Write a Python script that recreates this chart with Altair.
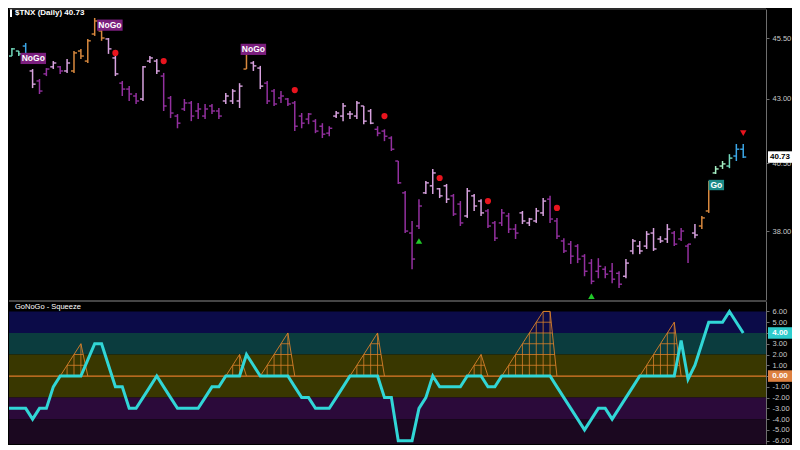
import altair as alt
import pandas as pd

# ---------------- data ----------------
N_BARS = 108
bar_index = list(range(N_BARS))

highs = [45.18, 45.10, 44.97, 45.31, 44.22, 43.81, 44.26, 44.55, 44.35, 44.64,
         44.97, 45.06, 45.48, 46.38, 45.91, 45.52, 44.76, 43.73, 43.52, 43.24,
         44.35, 44.76, 44.64, 44.06, 43.12, 42.40, 43.00, 42.92, 42.84, 42.80,
         42.80, 42.64, 43.24, 43.40, 43.64, 45.06, 44.55, 44.35, 43.73, 43.40,
         43.32, 43.04, 42.92, 42.44, 42.44, 42.20, 42.04, 41.92, 42.52, 42.84,
         42.52, 42.92, 42.72, 42.60, 41.92, 41.80, 41.53, 40.58, 39.46, 38.37,
         39.16, 39.83, 40.28, 39.57, 39.72, 39.35, 39.09, 39.57, 39.35, 39.16,
         38.80, 38.37, 38.80, 38.66, 38.26, 38.73, 38.48, 38.84, 39.20, 39.28,
         38.48, 37.76, 37.66, 37.55, 37.20, 37.03, 37.06, 36.78, 36.89, 36.61,
         37.03, 37.73, 37.66, 38.01, 38.12, 37.83, 38.26, 38.01, 38.12, 37.55,
         38.26, 38.55, 39.83, 40.39, 40.58, 40.84, 41.23, 41.23]
lows = [44.47, 44.76, 44.76, 44.43, 43.44, 43.20, 43.93, 44.22, 44.02, 44.06,
        44.06, 44.64, 44.47, 45.61, 45.40, 44.85, 43.93, 43.12, 42.92, 42.80,
        42.92, 44.47, 44.02, 42.52, 42.24, 41.84, 42.52, 42.12, 42.20, 42.20,
        42.40, 42.20, 42.80, 42.80, 42.64, 44.22, 44.14, 43.40, 42.80, 42.72,
        42.84, 42.72, 41.73, 41.84, 42.00, 41.65, 41.46, 41.53, 42.24, 42.12,
        42.20, 42.20, 42.00, 42.00, 41.53, 41.34, 40.96, 39.72, 37.94, 36.68,
        38.08, 39.35, 39.35, 39.20, 39.02, 38.55, 38.19, 38.48, 38.73, 38.55,
        38.12, 37.66, 38.19, 37.94, 37.73, 38.26, 38.19, 38.30, 38.55, 38.30,
        37.73, 37.24, 36.86, 36.89, 36.44, 36.17, 36.37, 36.37, 36.20, 36.04,
        36.37, 37.20, 37.20, 37.38, 37.31, 37.59, 37.59, 37.48, 37.66, 36.89,
        37.76, 38.08, 38.66, 40.09, 40.28, 40.31, 40.58, 40.69]
opens = [44.55, 44.76, 44.97, 45.18, 44.14, 43.73, 44.02, 44.31, 44.31, 44.14,
         44.14, 44.97, 44.55, 45.69, 45.82, 45.48, 44.68, 43.64, 43.40, 43.12,
         43.00, 44.55, 44.55, 43.93, 43.04, 42.32, 42.60, 42.84, 42.52, 42.32,
         42.72, 42.52, 42.92, 42.92, 42.92, 44.22, 44.47, 44.26, 43.64, 43.32,
         43.04, 43.00, 42.84, 42.32, 42.20, 42.12, 41.92, 41.65, 42.32, 42.32,
         42.40, 42.32, 42.72, 42.52, 41.80, 41.73, 41.46, 40.58, 39.39, 37.94,
         38.19, 39.39, 39.65, 39.54, 39.65, 39.28, 38.98, 38.55, 39.28, 39.09,
         38.73, 38.30, 38.30, 38.55, 38.08, 38.66, 38.30, 38.37, 38.66, 39.16,
         38.37, 37.66, 37.55, 37.48, 37.13, 36.89, 36.61, 36.68, 36.61, 36.54,
         36.44, 37.31, 37.48, 37.48, 37.94, 37.73, 37.73, 37.94, 37.73, 37.48,
         37.94, 38.19, 38.73, 40.13, 40.39, 40.39, 40.77, 41.03]
closes = [45.10, 45.06, 44.85, 44.55, 43.60, 43.32, 44.22, 44.47, 44.14, 44.47,
          44.89, 44.76, 45.40, 46.25, 45.52, 45.06, 44.02, 43.40, 43.20, 42.92,
          44.31, 44.68, 44.14, 42.72, 42.44, 42.04, 42.84, 42.32, 42.60, 42.60,
          42.52, 42.32, 43.12, 43.32, 43.52, 44.89, 44.35, 43.52, 42.92, 42.80,
          43.12, 42.80, 41.92, 42.04, 42.40, 41.73, 41.61, 41.84, 42.44, 42.72,
          42.40, 42.84, 42.12, 42.04, 41.65, 41.53, 41.03, 39.76, 38.01, 37.03,
          38.91, 39.76, 40.13, 39.28, 39.16, 38.62, 38.30, 39.46, 38.91, 38.66,
          38.19, 37.76, 38.66, 38.08, 37.94, 38.37, 38.44, 38.73, 39.09, 38.44,
          37.83, 37.31, 37.13, 37.03, 36.61, 36.27, 36.78, 36.51, 36.34, 36.17,
          36.89, 37.66, 37.31, 37.90, 37.38, 37.66, 38.08, 37.55, 38.01, 37.55,
          37.87, 38.48, 39.76, 40.28, 40.47, 40.69, 41.03, 40.73]
# GoNoGo bar state: T go-weak, B go, L go-light, A amber, w nogo-weak, n nogo
state_codes = ("TTTB" "wnnwnw" "AAAAA" "ww" "nnn" "www" "nnnnnnnnn" "www" "A" "ww"
               "nnnnnnnnnn" "wwwwww" "nnnnnnn" "wwww" "nn" "www" "nnnnn" "wwww"
               "nnnnnnnnnnn" "wwwwwww" "nnn" "w" "AA" "LL" "T" "BB")

osc = [-3, -3, -3, -3, -4, -3, -3, -1, 0, 0,
       0, 0, 1.5, 3, 3, 1, -1, -1, -3, -3,
       -2, -1, 0, -1, -2, -3, -3, -3, -3, -2,
       -1, -1, 0, 0, 0, 2, 1, 0, 0, 0,
       0, 0, -1, -2, -2, -3, -3, -3, -2, -1,
       0, 0, 0, 0, 0, -2, -2, -6, -6, -6,
       -3, -2, 0, -1, -1, -1, -1, 0, 0, 0,
       -1, -1, 0, 0, 0, 0, 0, 0, 0, 0,
       -1, -2, -3, -4, -5, -4, -3, -3, -4, -3,
       -2, -1, 0, 0, 0, 0, 0, 0, 3.3, -0.3,
       1, 3, 5, 5, 5, 6, 5, 4]

sq_start = [8, 32, 37, 50, 67, 72, 92]
sq_heights = [[0, 1, 2, 3], [0, 1, 2], [0, 1, 2, 3, 4], [0, 1, 2, 3, 4],
              [0, 1, 2], [0, 1, 2, 3, 4, 5, 6, 6], [0, 1, 2, 3, 4, 5]]

dot_bars = [16, 23, 42, 55, 63, 70, 80]
dot_prices = [44.89, 44.55, 43.36, 42.32, 39.94, 39.09, 38.84]
up_bars = [60, 85]
up_prices = [37.66, 35.77]
down_bars = [107]
down_prices = [41.65]
nogo_bars = [4.1, 15.2, 36.0]
nogo_prices = [44.66, 46.07, 45.04]
go_bars = [103.1]
go_prices = [39.68]

price_ticks = [38.0, 40.5, 43.0, 45.5]
osc_ticks = [-6, -5, -4, -3, -2, -1, 0, 1, 2, 3, 4, 5, 6]
band_lo = [4, 2, -2, -4, -6.31]
band_hi = [6, 4, 2, -2, -4]
band_colors = ["#0b0b48", "#0b3c3e", "#393700", "#2b0a3a", "#1b0820"]

title_text = "$TNX (Daily) 40.73"
osc_title = "GoNoGo - Squeeze"

# ---------------- styles ----------------
STATE_COLORS = {"T": "#72d8bb", "B": "#3ba6e6", "L": "#a6f0c4", "A": "#d9893e",
                "w": "#d8a2df", "n": "#93309f"}
FONT = "Liberation Sans"
W, H_TOP, H_BOT = 757, 291, 143
xs = alt.Scale(domain=[0.58, 110.3], nice=False, zero=False)
ys_top = alt.Scale(type="log", domain=[35.64, 46.77], nice=False)
ys_bot = alt.Scale(domain=[-6.31, 6.97], nice=False, zero=False)

axis_common = dict(orient="right", title=None, grid=False, labelColor="#c8c8c8",
                   labelFontSize=7.5, labelFont=FONT, domainColor="#6e6e6e",
                   tickColor="#6e6e6e", tickSize=3, labelPadding=3, labelFlush=False)
axis_top = alt.Axis(values=price_ticks, format=".2f", **axis_common)
axis_bot = alt.Axis(values=osc_ticks,
                    labelExpr="(datum.value < 0 ? '-' : '') + format(abs(datum.value), '.2f')",
                    **axis_common)
X = alt.X("i:Q", scale=xs, axis=None)

def YT(f):
    return alt.Y(f, scale=ys_top, axis=axis_top)

def YB(f):
    return alt.Y(f, scale=ys_bot, axis=axis_bot)

RECT_WIDE = "M-1,-0.44L1,-0.44L1,0.44L-1,0.44Z"
RECT_GO = "M-1,-0.67L1,-0.67L1,0.67L-1,0.67Z"
RECT_TAG = "M-1,-0.48L1,-0.48L1,0.48L-1,0.48Z"

# ---------------- top panel ----------------
bars = pd.DataFrame(dict(i=bar_index, high=highs, low=lows, open=opens,
                         close=closes, state=list(state_codes)))
bars["color"] = bars["state"].map(STATE_COLORS)
C = alt.Color("color:N", scale=None)
base = alt.Chart(bars)
hl = base.mark_rule(strokeWidth=1.5, clip=True).encode(
    x=X, y=YT("low:Q"), y2="high:Q", color=C)
op = base.mark_rule(strokeWidth=1.4, xOffset=-3, x2Offset=0, clip=True).encode(
    x=X, x2="i:Q", y=YT("open:Q"), color=C)
cl = base.mark_rule(strokeWidth=1.4, xOffset=0, x2Offset=3, clip=True).encode(
    x=X, x2="i:Q", y=YT("close:Q"), color=C)

dots = alt.Chart(pd.DataFrame(dict(i=dot_bars, p=dot_prices))).mark_circle(
    size=38, color="#e8141e", opacity=1).encode(x=X, y=YT("p:Q"))
ups = alt.Chart(pd.DataFrame(dict(i=up_bars, p=up_prices))).mark_point(
    shape="triangle-up", filled=True, size=42, color="#20c828", opacity=1).encode(x=X, y=YT("p:Q"))
downs = alt.Chart(pd.DataFrame(dict(i=down_bars, p=down_prices))).mark_point(
    shape="triangle-down", filled=True, size=42, color="#e8141e", opacity=1).encode(x=X, y=YT("p:Q"))

nogo_df = pd.DataFrame(dict(i=nogo_bars, p=nogo_prices, t=["NoGo"] * len(nogo_bars)))
nogo_box = alt.Chart(nogo_df).mark_point(shape=RECT_WIDE, filled=True, size=650,
                                         color="#7b1f7e", opacity=1).encode(x=X, y=YT("p:Q"))
nogo_txt = alt.Chart(nogo_df).mark_text(font=FONT, fontSize=8.5, fontWeight="bold",
                                        color="white").encode(x=X, y=YT("p:Q"), text="t:N")
go_df = pd.DataFrame(dict(i=go_bars, p=go_prices, t=["Go"] * len(go_bars)))
go_box = alt.Chart(go_df).mark_point(shape=RECT_GO, filled=True, size=240,
                                     color="#1c8a88", opacity=1).encode(x=X, y=YT("p:Q"))
go_txt = alt.Chart(go_df).mark_text(font=FONT, fontSize=8.5, fontWeight="bold",
                                    color="white").encode(x=X, y=YT("p:Q"), text="t:N")

tdf = pd.DataFrame({"t": [title_text]})
title_bar = alt.Chart(tdf).mark_rule(color="white", strokeWidth=2).encode(
    x=alt.value(2), y=alt.value(0), y2=alt.value(8))
title = alt.Chart(tdf).mark_text(align="left", baseline="middle", font=FONT, fontSize=8,
                                 fontWeight="bold", color="white").encode(
    x=alt.value(6), y=alt.value(4), text="t:N")
border_top = alt.Chart(tdf).mark_rule(color="#555555", strokeWidth=1).encode(
    x=alt.value(0), x2=alt.value(W), y=alt.value(0))

last_df = pd.DataFrame({"p": [closes[-1]], "t": [f"{closes[-1]:.2f}"]})
price_box = alt.Chart(last_df).mark_point(shape=RECT_TAG, filled=True, size=576,
                                          color="white", opacity=1).encode(
    x=alt.value(W + 14), y=YT("p:Q"))
price_txt = alt.Chart(last_df).mark_text(font=FONT, fontSize=8, fontWeight="bold",
                                         color="black").encode(
    x=alt.value(W + 14), y=YT("p:Q"), text="t:N")

top = alt.layer(hl, op, cl, dots, ups, downs, nogo_box, nogo_txt, go_box, go_txt,
                title_bar, title, border_top, price_box, price_txt).properties(
    width=W, height=H_TOP)

# ---------------- bottom panel ----------------
bands = alt.Chart(pd.DataFrame(dict(lo=band_lo, hi=band_hi, c=band_colors))).mark_rect().encode(
    x=alt.value(0), x2=alt.value(W), y=YB("lo:Q"), y2="hi:Q", color=alt.Color("c:N", scale=None))
zero = alt.Chart(pd.DataFrame({"z": [0]})).mark_rule(color="#e07b28", strokeWidth=1.3).encode(
    y=YB("z:Q"))

prof_rows, vert_rows, hor_rows = [], [], []
for r, (s, hs) in enumerate(zip(sq_start, sq_heights)):
    n = len(hs)
    for j, h in enumerate(hs):
        prof_rows.append(dict(run=r, x=s + j, h=h))
        if h > 0:
            vert_rows.append(dict(x=s + j, h=h, z=0))
    prof_rows.append(dict(run=r, x=s + n, h=0))
    top_h = hs[-1]
    for k in range(1, int(max(hs)) + 1):
        left = s + next(j for j, h in enumerate(hs) if h >= k)
        right = s + n - 1 + (top_h - k) / top_h
        if right > left:
            hor_rows.append(dict(x1=left, x2=right, k=k))

SQ = "#d9802a"
sq_line = alt.Chart(pd.DataFrame(prof_rows)).mark_line(color=SQ, strokeWidth=0.9, clip=True).encode(
    x=alt.X("x:Q", scale=xs, axis=None), y=YB("h:Q"), detail="run:N")
sq_v = alt.Chart(pd.DataFrame(vert_rows)).mark_rule(color=SQ, strokeWidth=0.8, clip=True).encode(
    x=alt.X("x:Q", scale=xs, axis=None), y=YB("z:Q"), y2="h:Q")
sq_h = alt.Chart(pd.DataFrame(hor_rows)).mark_rule(color=SQ, strokeWidth=0.8, clip=True).encode(
    x=alt.X("x1:Q", scale=xs, axis=None), x2="x2:Q", y=YB("k:Q"))

osc_line = alt.Chart(pd.DataFrame(dict(i=bar_index, v=osc))).mark_line(
    color="#31d6d6", strokeWidth=3, clip=True).encode(x=X, y=YB("v:Q"))

bdf = pd.DataFrame({"t": [osc_title]})
title2 = alt.Chart(bdf).mark_text(align="left", baseline="middle", font=FONT, fontSize=7.5,
                                  color="white").encode(x=alt.value(6), y=alt.value(6), text="t:N")
border2 = alt.Chart(bdf).mark_rule(color="#8a8a8a", strokeWidth=1).encode(
    x=alt.value(0), x2=alt.value(W), y=alt.value(0))

tag_df = pd.DataFrame(dict(v=[osc[-1], 0], t=[f"{osc[-1]:.2f}", "0.00"],
                           c=["#2ecccc", "#dd8040"]))
tag_box = alt.Chart(tag_df).mark_point(shape=RECT_TAG, filled=True, size=576, opacity=1).encode(
    x=alt.value(W + 14), y=YB("v:Q"), color=alt.Color("c:N", scale=None))
tag_txt = alt.Chart(tag_df).mark_text(font=FONT, fontSize=8, fontWeight="bold", color="white").encode(
    x=alt.value(W + 14), y=YB("v:Q"), text="t:N")

bottom = alt.layer(bands, zero, sq_v, sq_h, sq_line, osc_line, title2, border2,
                   tag_box, tag_txt).properties(width=W, height=H_BOT)

chart = alt.vconcat(top, bottom, spacing=0).properties(
    padding=0, background="#000000").configure_view(stroke=None).configure_concat(spacing=0)

chart.save("out.html", embed_options={"renderer": "svg", "actions": False})
